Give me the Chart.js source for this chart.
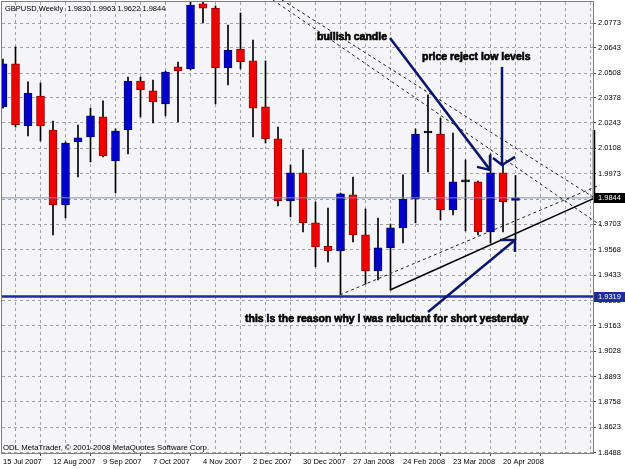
<!DOCTYPE html>
<html>
<head>
<meta charset="utf-8">
<script src="https://cdn.jsdelivr.net/npm/chart.js@4.4.1/dist/chart.umd.min.js"></script>
<style>
  html, body { margin: 0; padding: 0; background: #fff; }
  canvas { display: block; }
</style>
</head>
<body>
<canvas id="chart" width="625" height="469"></canvas>
<script>
// weekly GBPUSD bars, one per week starting 15 Jul 2007
const weeks = [
  '15 Jul 2007', '22 Jul 2007', '29 Jul 2007', '5 Aug 2007', '12 Aug 2007', '19 Aug 2007', '26 Aug 2007',
  '2 Sep 2007', '9 Sep 2007', '16 Sep 2007', '23 Sep 2007', '30 Sep 2007', '7 Oct 2007', '14 Oct 2007',
  '21 Oct 2007', '28 Oct 2007', '4 Nov 2007', '11 Nov 2007', '18 Nov 2007', '25 Nov 2007', '2 Dec 2007',
  '9 Dec 2007', '16 Dec 2007', '23 Dec 2007', '30 Dec 2007', '6 Jan 2008', '13 Jan 2008', '20 Jan 2008',
  '27 Jan 2008', '3 Feb 2008', '10 Feb 2008', '17 Feb 2008', '24 Feb 2008', '2 Mar 2008', '9 Mar 2008',
  '16 Mar 2008', '23 Mar 2008', '30 Mar 2008', '6 Apr 2008', '13 Apr 2008', '20 Apr 2008', '27 Apr 2008'
];
const open = [2.0328, 2.0557, 2.0227, 2.0386, 2.0205, 1.9806, 2.0142, 2.0168, 2.0275, 2.0041, 2.0205, 2.0466, 2.0413, 2.0344,
  2.0541, 2.0530, 2.0876, 2.0854, 2.0535, 2.0636, 2.0573, 2.0328, 2.0158, 1.9828, 1.9977, 1.9711, 1.9588, 1.9562,
  1.9860, 1.9647, 1.9455, 1.9578, 1.9684, 1.9838, 2.0189, 2.0184, 1.9780, 1.9929, 1.9929, 1.9663, 1.9977, 1.9830];
const high = [2.0583, 2.0647, 2.0461, 2.0455, 2.0253, 2.0142, 2.0232, 2.0322, 2.0360, 2.0211, 2.0487, 2.0487, 2.0471, 2.0519,
  2.0567, 2.0930, 2.1160, 2.0865, 2.0764, 2.0828, 2.0684, 2.0573, 2.0221, 2.0019, 2.0099, 1.9822, 1.9790, 1.9870,
  1.9955, 1.9785, 1.9737, 1.9705, 1.9966, 2.0211, 2.0392, 2.0269, 2.0189, 2.0046, 1.9934, 2.0078, 2.0019, 1.9963];
const low = [2.0322, 2.0221, 2.0174, 2.0147, 1.9647, 1.9737, 1.9955, 2.0035, 2.0062, 1.9870, 2.0078, 2.0275, 2.0243, 2.0280,
  2.0248, 2.0525, 2.0775, 2.0344, 2.0445, 2.0530, 2.0168, 2.0136, 1.9801, 1.9743, 1.9663, 1.9477, 1.9503, 1.9328,
  1.9610, 1.9386, 1.9407, 1.9354, 1.9604, 1.9711, 1.9982, 1.9727, 1.9753, 1.9668, 1.9647, 1.9604, 1.9663, 1.9622];
const close = [2.0557, 2.0232, 2.0402, 2.0227, 1.9806, 2.0136, 2.0163, 2.0280, 2.0067, 2.0200, 2.0466, 2.0418, 2.0354, 2.0514,
  2.0519, 2.0870, 2.0854, 2.0535, 2.0631, 2.0567, 2.0322, 2.0158, 1.9828, 1.9977, 1.9711, 1.9583, 1.9562, 1.9865,
  1.9647, 1.9455, 1.9578, 1.9684, 1.9838, 2.0184, 2.0189, 1.9780, 1.9929, 1.9929, 1.9663, 1.9977, 1.9822, 1.9844];
const priceTicks = [2.0773, 2.0643, 2.0508, 2.0378, 2.0243, 2.0108, 1.9973, 1.9838, 1.9703, 1.9568, 1.9433, 1.9298,
  1.9163, 1.9028, 1.8893, 1.8758, 1.8623, 1.8488];

const bidPrice = 1.9844;
const supportPrice = 1.9319;
const title = 'GBPUSD,Weekly  1.9830 1.9963 1.9622 1.9844';
const copyright = 'ODL MetaTrader, \u00a9 2001-2008 MetaQuotes Software Corp.';

// drawn objects, as [bar index, price]
const trendLines = [
  { from: [21.6, 2.0897], to: [48.0, 1.9689], dash: [3, 3], color: '#222', width: 1 },
  { from: [22.32, 2.0897], to: [47.2, 1.9849], dash: [3, 3], color: '#222', width: 1 },
  { from: [26.96, 1.9328], to: [47.76, 1.9913], dash: [3, 3], color: '#222', width: 1 },
  { from: [30.96, 1.9354], to: [47.36, 1.9844], dash: [], color: '#000', width: 1.6 },
  { from: [47.28, 2.0205], to: [47.28, 1.9833], dash: [], color: '#000', width: 2.5 }
];
const arrows = [
  { from: [30.96, 2.0695], tip: [38.96, 1.9993], wings: [[37.92, 2.0009], [38.96, 2.0072]] },
  { from: [39.92, 2.0541], tip: [39.92, 2.0019], wings: [[39.2, 2.0056], [40.96, 2.0062]] },
  { from: [34.0, 1.9237], tip: [40.96, 1.9620], wings: [[39.76, 1.9620], [40.96, 1.9556]] }
];
const notes = [
  { text: 'bullish candle', at: [25.12, 2.0700] },
  { text: 'price reject low levels', at: [33.52, 2.0591] },
  { text: 'this is the reason why i was reluctant for short yesterday', at: [19.36, 1.9200] }
];

const FONT = "'Liberation Sans', Arial, sans-serif";
const bullColor = '#0000c8';
const bearColor = '#f00000';

const candleColor = i => close[i] > open[i] ? bullColor : (close[i] < open[i] ? bearColor : '#000');
const candleEdge = i => close[i] > open[i] ? '#00006a' : (close[i] < open[i] ? '#8a0000' : '#000');

const gridSteps = [];
for (let i = 0; i <= 46; i += 2) gridSteps.push(i);

const toPx = (chart, pt) => [chart.scales.x.getPixelForValue(pt[0]), chart.scales.y.getPixelForValue(pt[1])];

function strokePath(ctx, pts, color, width, dash) {
  ctx.save();
  ctx.strokeStyle = color;
  ctx.lineWidth = width;
  ctx.setLineDash(dash || []);
  ctx.beginPath();
  pts.forEach((p, k) => (k ? ctx.lineTo(p[0], p[1]) : ctx.moveTo(p[0], p[1])));
  ctx.stroke();
  ctx.restore();
}

function priceBox(chart, price, bg) {
  const ctx = chart.ctx;
  const y = chart.scales.y.getPixelForValue(price);
  const x = chart.chartArea.right + 1;
  ctx.save();
  ctx.fillStyle = bg;
  ctx.fillRect(x, Math.round(y) - 5, chart.width - x, 10);
  ctx.fillStyle = '#fff';
  ctx.font = '7.5px ' + FONT;
  ctx.textBaseline = 'middle';
  ctx.fillText(price.toFixed(4), x + 4, y + 0.5);
  ctx.restore();
}

const mtOverlay = {
  id: 'mtOverlay',
  beforeDraw(chart) {
    const { ctx, chartArea: a } = chart;
    ctx.save();
    ctx.fillStyle = '#ffffff';
    ctx.fillRect(0, 0, chart.width, chart.height);
    ctx.fillStyle = '#f5f5f7';
    ctx.fillRect(a.left, a.top, a.right - a.left, a.bottom - a.top);
    ctx.restore();
  },
  afterDatasetsDraw(chart) {
    const { ctx, chartArea: a } = chart;
    // bid line and support line
    const yb = chart.scales.y.getPixelForValue(bidPrice);
    strokePath(ctx, [[a.left, yb], [a.right, yb]], '#8490a6', 1);
    const ys = chart.scales.y.getPixelForValue(supportPrice);
    strokePath(ctx, [[a.left, ys], [a.right, ys]], '#1f2a9c', 2.5);

    trendLines.forEach(t => strokePath(ctx, [toPx(chart, t.from), toPx(chart, t.to)], t.color, t.width, t.dash));

    arrows.forEach(ar => {
      const tip = toPx(chart, ar.tip);
      strokePath(ctx, [toPx(chart, ar.from), tip], '#0d1566', 2.5);
      strokePath(ctx, [toPx(chart, ar.wings[0]), tip, toPx(chart, ar.wings[1])], '#0d1566', 2.5);
    });

    ctx.save();
    ctx.fillStyle = '#000';
    ctx.strokeStyle = '#000';
    ctx.lineWidth = 0.6;
    ctx.font = 'bold 10.5px ' + FONT;
    ctx.textBaseline = 'middle';
    notes.forEach(n => {
      const p = toPx(chart, n.at);
      ctx.fillText(n.text, p[0], p[1]);
      ctx.strokeText(n.text, p[0], p[1]);
    });
    ctx.font = '7.5px ' + FONT;
    ctx.fillText(title, a.left + 3, a.top + 7);
    ctx.font = '7.8px ' + FONT;
    ctx.fillText(copyright, a.left + 1, a.bottom - 5);
    ctx.restore();
  },
  afterDraw(chart) {
    const { ctx, chartArea: a } = chart;
    ctx.save();
    ctx.strokeStyle = '#808080';
    ctx.lineWidth = 1;
    ctx.strokeRect(a.left - 0.5, a.top - 0.5, a.right - a.left + 1, a.bottom - a.top + 1);
    ctx.restore();
    priceBox(chart, bidPrice, '#000');
    priceBox(chart, supportPrice, '#1f2a9c');
  }
};

const bodies = weeks.map((w, i) => ({ x: i, y: [open[i], close[i]] }));
const wicks = weeks.map((w, i) => ({ x: i, y: [low[i], high[i]] }));

new Chart(document.getElementById('chart'), {
  type: 'bar',
  data: {
    datasets: [{
      label: 'body',
      data: bodies,
      backgroundColor: c => candleColor(c.dataIndex),
      borderColor: c => candleEdge(c.dataIndex),
      borderWidth: 1,
      borderSkipped: false,
      barThickness: 8,
      minBarLength: 2,
      grouped: false
    }, {
      label: 'wick',
      data: wicks,
      backgroundColor: '#000',
      barThickness: 1,
      grouped: false
    }]
  },
  options: {
    responsive: false,
    animation: false,
    events: [],
    layout: {
      padding: { left: 2, top: 2, right: 0, bottom: 0 }
    },
    plugins: {
      legend: { display: false },
      tooltip: { enabled: false }
    },
    scales: {
      x: {
        type: 'linear',
        min: -0.08,
        max: 47.2,
        offset: false,
        afterBuildTicks: s => { s.ticks = gridSteps.map(v => ({ value: v })); },
        afterFit: s => { s.height = 16; s.paddingLeft = 0; s.paddingRight = 0; },
        ticks: {
          autoSkip: false,
          maxRotation: 0,
          align: 'start',
          padding: 1,
          color: '#000',
          font: { family: FONT, size: 7.5 },
          callback: v => (v % 4 === 0 && weeks[v] ? weeks[v] : '')
        },
        grid: {
          color: '#a2a2a2',
          tickLength: 3,
          tickColor: c => (c.tick && c.tick.value % 4 === 0 ? '#444' : 'rgba(0,0,0,0)')
        },
        border: { color: '#6a6a6a', dash: [3, 3] }
      },
      y: {
        position: 'right',
        min: 1.84864,
        max: 2.08863,
        beginAtZero: false,
        afterBuildTicks: s => { s.ticks = priceTicks.map(v => ({ value: v })); },
        afterFit: s => { s.width = 32; s.paddingTop = 0; s.paddingBottom = 0; },
        ticks: {
          padding: 2,
          color: '#000',
          font: { family: FONT, size: 7.5 },
          callback: v => v.toFixed(4)
        },
        grid: {
          color: '#a2a2a2',
          tickLength: 3,
          tickColor: '#444'
        },
        border: { color: '#5a5a5a', dash: [3, 3] }
      }
    }
  },
  plugins: [mtOverlay]
});
</script>
</body>
</html>
